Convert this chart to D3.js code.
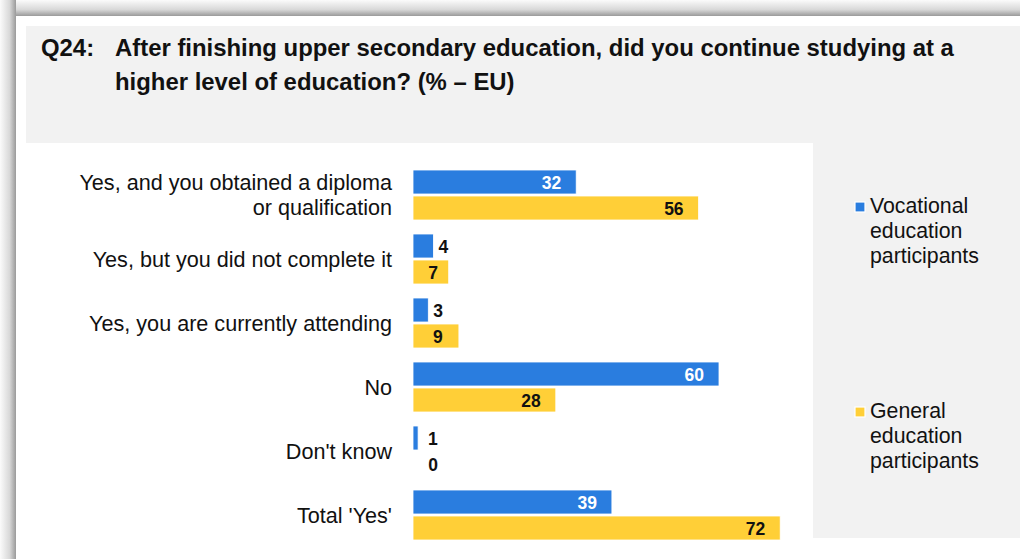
<!DOCTYPE html>
<html>
<head>
<meta charset="utf-8">
<script src="https://cdn.jsdelivr.net/npm/d3@7"></script>
<style>
  html, body { margin: 0; padding: 0; background: #ffffff; }
  svg { display: block; }
  text { font-family: "Liberation Sans", Arial, sans-serif; }
</style>
</head>
<body>
<svg id="chart" width="1020" height="559"></svg>
<script>
// ---- data ----
const titleNumber = "Q24:";
const titleLines = [
  "After finishing upper secondary education, did you continue studying at a",
  "higher level of education? (% \u2013 EU)"
];
const categories = [
  "Yes, and you obtained a diploma\nor qualification",
  "Yes, but you did not complete it",
  "Yes, you are currently attending",
  "No",
  "Don't know",
  "Total 'Yes'"
];
const seriesNames = ["Vocational education participants", "General education participants"];
const legendLines = [["Vocational", "education", "participants"], ["General", "education", "participants"]];
const vocational = [32, 4, 3, 60, 1, 39];
const general = [56, 7, 9, 28, 0, 72];
const colors = ["#2a7ddf", "#ffcf37"];

// ---- setup ----
const W = 1020, H = 559;
const svg = d3.select("#chart");
const defs = svg.append("defs");

const gTop = defs.append("linearGradient").attr("id", "shTop").attr("x1", 0).attr("y1", 0).attr("x2", 0).attr("y2", 1);
gTop.append("stop").attr("offset", "0%").attr("stop-color", "#fbfbfb");
gTop.append("stop").attr("offset", "60%").attr("stop-color", "#d8d8d8");
gTop.append("stop").attr("offset", "100%").attr("stop-color", "#9a9a9a");
const gLeft = defs.append("linearGradient").attr("id", "shLeft").attr("x1", 0).attr("y1", 0).attr("x2", 1).attr("y2", 0);
gLeft.append("stop").attr("offset", "0%").attr("stop-color", "#fbfbfb");
gLeft.append("stop").attr("offset", "60%").attr("stop-color", "#d8d8d8");
gLeft.append("stop").attr("offset", "100%").attr("stop-color", "#9a9a9a");

// background & frame
svg.append("rect").attr("x", 0).attr("y", 0).attr("width", W).attr("height", H).attr("fill", "#ffffff");
svg.append("rect").attr("x", 0).attr("y", 0).attr("width", W).attr("height", 16).attr("fill", "url(#shTop)");
svg.append("rect").attr("x", 0).attr("y", 0).attr("width", 16).attr("height", H).attr("fill", "url(#shLeft)");
// title panel
svg.append("rect").attr("x", 26).attr("y", 26).attr("width", W - 26).attr("height", 117).attr("fill", "#f2f2f2");
// legend panel
svg.append("rect").attr("x", 813).attr("y", 143).attr("width", W - 813).attr("height", 395).attr("fill", "#f2f2f2");

// title
const tg = svg.append("g").attr("fill", "#111").style("font-weight", "bold").style("font-size", "23.9px");
tg.append("text").attr("x", 41).attr("y", 56).text(titleNumber);
tg.selectAll("text.tl").data(titleLines).join("text").attr("class", "tl")
  .attr("x", 115).attr("y", (d, i) => 56 + i * 34).text(d => d);

// scales
const x = d3.scaleLinear().domain([0, 100]).range([413, 413 + 510]);
const y = d3.scaleBand().domain(d3.range(categories.length)).range([170, 540]).paddingInner(14 / 64);
const ySub = d3.scaleBand().domain([0, 1]).range([0, y.bandwidth()]).paddingInner(2 / 26);

const rows = categories.map((c, i) => ({ i, c, vals: [vocational[i], general[i]] }));

// category labels
const catG = svg.append("g").attr("fill", "#111").style("font-size", "21.6px");
rows.forEach(r => {
  const lines = r.c.split("\n");
  const cy = y(r.i) + y.bandwidth() / 2;
  lines.forEach((ln, k) => {
    catG.append("text")
      .attr("x", 392)
      .attr("y", cy + (k - (lines.length - 1) / 2) * 25)
      .attr("dy", "0.35em")
      .attr("text-anchor", "end")
      .text(ln);
  });
});

// bars
const barG = svg.append("g");
rows.forEach(r => {
  r.vals.forEach((v, s) => {
    const by = y(r.i) + ySub(s);
    const bw = ySub.bandwidth();
    barG.append("rect")
      .attr("x", x(0)).attr("y", by)
      .attr("width", Math.max(0, x(v) - x(0))).attr("height", bw)
      .attr("fill", colors[s])
      .attr("stroke", v > 0 ? "#ffffff" : "none").attr("stroke-width", 0.8);
    // value label
    const inside = (x(v) - x(0)) > 60;
    let lx, anchor, fill;
    if (inside) {
      lx = x(v) - 15; anchor = "end"; fill = s === 0 ? "#ffffff" : "#111";
    } else if (s === 0) {
      lx = Math.max(x(v) + 5, x(0) + 15); anchor = "start"; fill = "#111";
    } else {
      lx = Math.max((x(0) + x(v)) / 2 + 2, x(0) + 20); anchor = "middle"; fill = "#111";
    }
    barG.append("text")
      .attr("x", lx).attr("y", by + bw / 2 + 1)
      .attr("dy", "0.35em")
      .attr("text-anchor", anchor)
      .attr("fill", fill)
      .style("font-weight", "bold").style("font-size", "17.5px")
      .text(v);
  });
});

// legend
const legTops = [207, 412];
const lg = svg.append("g").style("font-size", "21.3px").attr("fill", "#111");
legendLines.forEach((lines, s) => {
  lg.append("rect").attr("x", 855).attr("y", legTops[s] - 5).attr("width", 10).attr("height", 10)
    .attr("fill", colors[s]).attr("stroke", "#ffffff").attr("stroke-width", 1.2);
  lines.forEach((ln, k) => {
    lg.append("text").attr("x", 870).attr("y", legTops[s] - 1 + k * 25).attr("dy", "0.35em").text(ln);
  });
});
</script>
</body>
</html>
